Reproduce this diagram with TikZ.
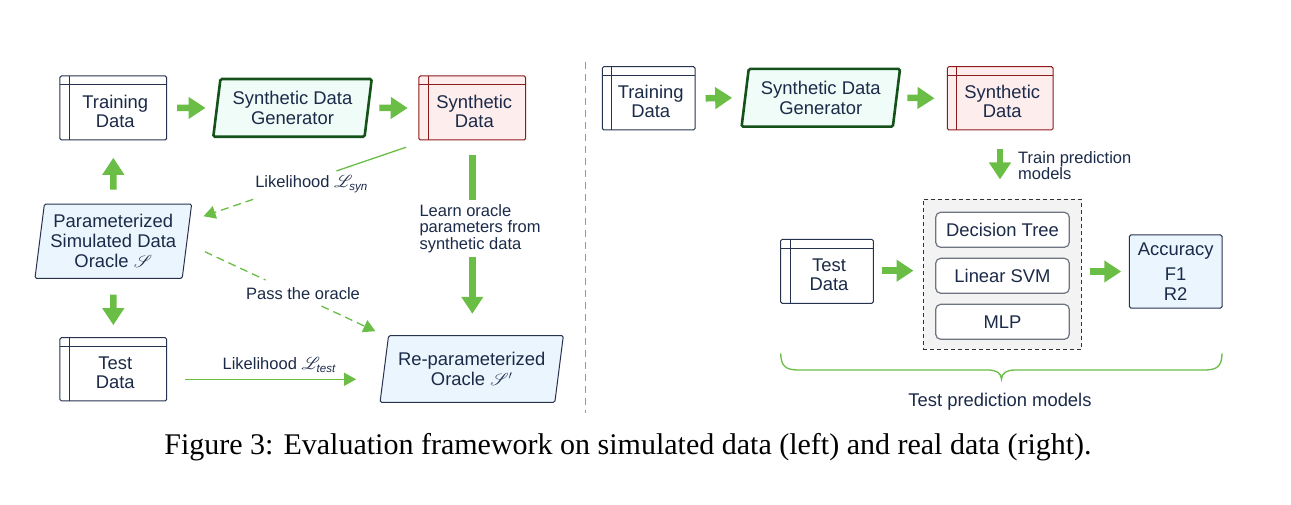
\documentclass[tikz,border=0pt]{standalone}
\usepackage{amsmath}
\usepackage{mathrsfs}
\usepackage{fontspec}
\setmainfont{Liberation Sans}
\newfontfamily\capfont{Liberation Serif}
\usetikzlibrary{shapes.geometric,arrows.meta,calc}
\definecolor{gr}{HTML}{6ABD45}
\definecolor{navy}{HTML}{1B2A48}
\definecolor{boxb}{HTML}{25334F}
\definecolor{dkgreen}{HTML}{14521A}
\definecolor{mint}{HTML}{EFFCF7}
\definecolor{sky}{HTML}{EAF5FD}
\definecolor{rose}{HTML}{FDEDED}
\definecolor{dred}{HTML}{8E1B1B}
\definecolor{mgray}{HTML}{6E7480}
\definecolor{lgray}{HTML}{F3F3F3}
\begin{document}
\begin{tikzpicture}[x=1pt,y=1pt,
  font=\fontsize{18.4}{20}\selectfont, text=navy,
  databox/.style={draw=#1, line width=1, rounded corners=1.5, fill=white,
    minimum width=106.7, minimum height=64, inner sep=0,
    path picture={
      \draw[#1,line width=1] ([xshift=9.3]path picture bounding box.north west) -- ([xshift=9.3]path picture bounding box.south west);
      \draw[#1,line width=1] ([yshift=-8.8]path picture bounding box.north west) -- ([yshift=-8.8]path picture bounding box.north east);}},
  databox/.default=boxb,
  dtext/.style={align=center, inner sep=0, font=\fontsize{18.4}{19}\selectfont},
  para/.style 2 args={trapezium, trapezium left angle=#1, trapezium right angle=#2,
    trapezium stretches body, rounded corners=1.5, align=center, inner sep=0},
  paraA/.style={para={78}{102}, draw=dkgreen, line width=2.6, fill=mint,
    minimum width=158.4, minimum height=57.7},
  paraB/.style={draw=boxb, line width=1, fill=sky},
  mbox/.style={draw=mgray, line width=1.2, rounded corners=5, fill=white,
    minimum width=133.6, minimum height=35, inner sep=0},
  lbl/.style={font=\fontsize{16.5}{16.5}\selectfont, inner sep=0},
  fat/.style={draw=gr, line width=6.5, -{Triangle[length=17pt,width=21pt]}},
  fatline/.style={draw=gr, line width=6.5},
  thinline/.style={draw=gr, line width=1.3},
  thinarr/.style={draw=gr, line width=1.3, -{Triangle[length=12pt,width=13pt]}},
  dsh/.style={dash pattern=on 8pt off 5pt}
]
\useasboundingbox (0,0) rectangle (1291,-505);

% ---------- left panel ----------
\node[databox] (trainL) at (113.3,-108) {};
\node[dtext] (trainLt) at ($(trainL.center)+(2,-3.5)$) {Training\\Data};
\node[paraA] (genL) at (292.5,-107.9) {Synthetic Data\\Generator};
\node[databox=dred, fill=rose] (synL) at (472.3,-108) {};
\node[dtext] (synLt) at ($(synL.center)+(2,-3.5)$) {Synthetic\\Data};
\node[para={80}{100}, paraB, minimum width=156.7, minimum height=74.3] (paraS) at (113.3,-241.2)
  {Parameterized\\Simulated Data\\Oracle $\mathscr{S}$};
\node[databox, minimum height=63.3] (testL) at (113.3,-369.3) {};
\node[dtext] (testLt) at ($(testL.center)+(2,-3.2)$) {Test\\Data};
\node[para={76}{104}, paraB, minimum width=183.3, minimum height=66.6,
  font=\fontsize{18.4}{20.6}\selectfont] (reparam) at (471.7,-369)
  {Re-parameterized\\Oracle $\mathscr{S}'$};

\draw[fat] ([xshift=10]trainL.east) -- ([xshift=-10]genL.west);
\draw[fat] ([xshift=10]genL.east) -- ([xshift=-10.7]synL.west);
\draw[fat] ([yshift=14]paraS.north) -- ([yshift=-17.3]trainL.south);
\draw[fat] ([yshift=-15.7]paraS.south) -- ([yshift=12]testL.north);

\node[lbl, align=left, anchor=west, minimum height=56.7] (learn) at (419.3,-228.4)
  {Learn oracle\\parameters from\\synthetic data};
\draw[fatline] ([yshift=-15]synL.south) -- (synL.south |- learn.north);
\draw[fat] (synL.south |- learn.south) -- ($(synL.south |- reparam.north)+(0,21.4)$);

\coordinate (p0) at ($(synL.south west)+(-12.3,-6.7)$);
\coordinate (p1) at ($(paraS.top right corner)+(11.3,-12.7)$);
\node[lbl] (lsyn) at (311.5,-184) {Likelihood $\mathscr{L}_{\text{\itshape syn}}$};
\draw[thinline] (p0) -- ($(p0)!0.344!(p1)$);
\draw[thinarr, dsh] ($(p0)!0.755!(p1)$) -- (p1);

\coordinate (q0) at ($(paraS.east)+(17.4,-10.5)$);
\coordinate (q1) at ($(reparam.top left corner)+(-12.7,4)$);
\node[lbl] (pass) at (303,-293.3) {Pass the oracle};
\draw[thinline, dsh] (q0) -- ($(q0)!0.356!(q1)$);
\draw[thinarr, dsh] ($(q0)!0.684!(q1)$) -- (q1);

\node[lbl] (ltest) at (279.2,-365) {Likelihood $\mathscr{L}_{\text{\itshape test}}$};
\draw[thinarr] ($(testL.east)+(18.3,-10)$) -- ($(reparam.west |- testL.east)+(-27.7,-10)$);

% separator
\draw[gr, line width=1, dash pattern=on 7pt off 5pt] (585.7,-62) -- (585.7,-413);

% ---------- right panel ----------
\node[databox, minimum width=92.7, minimum height=63.3] (trainR) at (648.7,-98.3) {};
\node[dtext] (trainRt) at ($(trainR.center)+(2,-3.5)$) {Training\\Data};
\node[paraA] (genR) at (820.8,-97.8) {Synthetic Data\\Generator};
\node[databox=dred, fill=rose, minimum width=105.7, minimum height=63.3] (synR) at (1000.2,-98.3) {};
\node[dtext] (synRt) at ($(synR.center)+(2,-3.5)$) {Synthetic\\Data};
\draw[fat] ([xshift=10]trainR.east) -- ([xshift=-11.7]genR.west);
\draw[fat] ([xshift=9.6]genR.east) -- ([xshift=-12.3]synR.west);

\node[draw=black!80, dash pattern=on 4pt off 3pt, line width=1, fill=lgray,
  minimum width=158.4, minimum height=150] (models) at (1002.5,-274.3) {};
\node[mbox] (dt) at (1002.5,-229.8) {Decision Tree};
\node[mbox] (svm) at (1002.5,-275.8) {Linear SVM};
\node[mbox] (mlp) at (1002.5,-321.8) {MLP};

\draw[fat] ($(synR.south)+(-0.2,-19)$) -- ($(synR.south |- models.north)+(-0.2,19.3)$);
\node[lbl, align=left, anchor=west] (trainlbl) at (1018,-165.5) {Train prediction\\models};

\node[databox, minimum width=92.6, minimum height=64] (testR) at (827,-271.3) {};
\node[dtext] (testRt) at ($(testR.center)+(2,-3.5)$) {Test\\Data};
\node[draw=boxb, fill=sky, rounded corners=1.5, line width=1, minimum width=92.7,
  minimum height=73, align=center, inner sep=0] (acc) at (1175.7,-271.5) {Accuracy\\[5pt]F1\\R2};

\draw[fat] ($(testR.east)+(8.4,0.6)$) -- ($(models.west |- testR.east)+(-9.3,0.6)$);
\draw[fat] ($(models.east |- acc.west)+(7.6,0)$) -- ($(acc.west)+(-7.6,0)$);

\draw[gr, line width=1.3] (780.7,-353.3) .. controls (780.7,-366) and (786,-370) .. (798,-370)
  -- (988,-370) .. controls (996,-370) and (1001.5,-373) .. (1001.5,-379.3)
  .. controls (1001.5,-373) and (1007,-370) .. (1015,-370)
  -- (1205,-370) .. controls (1217,-370) and (1222,-366) .. (1222,-353.3);
\node (tpm) at (1000,-401.7) {Test prediction models};

% caption
\node[font=\capfont\fontsize{30}{34}\selectfont, text=black] (cap) at (628,-447)
  {Figure 3: Evaluation framework on simulated data (left) and real data (right).};
\end{tikzpicture}
\end{document}
